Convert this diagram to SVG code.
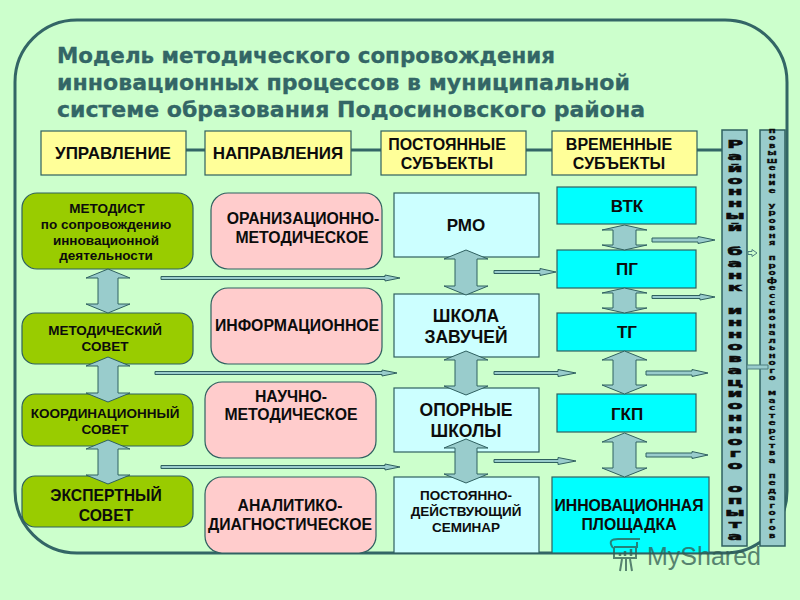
<svg xmlns="http://www.w3.org/2000/svg" width="800" height="600" viewBox="0 0 800 600">
<style>
text{font-family:"Liberation Sans",Arial,sans-serif;font-weight:700;fill:#0c0c0c;text-anchor:middle}
.t{font-family:"DejaVu Sans",sans-serif;fill:#336666;stroke:#336666;stroke-width:.3;text-anchor:start;font-size:21px}
.b{stroke:#2f6060;stroke-width:1.2}
.hd{fill:#ffff99}.gr{fill:#99cc00}.pk{fill:#ffcccc}.lb{fill:#ccffff}.cy{fill:#00ffff}
.band{fill:#99cccc;stroke:#2f6060;stroke-width:1.5}
.a{fill:#99cccc;stroke:#2f6060;stroke-width:1}
.v{font-family:"DejaVu Sans",sans-serif;font-weight:700;stroke:#0c0c0c;stroke-width:.5}
</style>
<rect width="800" height="600" fill="#ccffcc"/>
<rect x="15" y="20" width="772" height="533" rx="62" fill="none" stroke="#336666" stroke-width="3"/>
<g id="title">
<text class="t" x="57" y="63" textLength="498" lengthAdjust="spacingAndGlyphs">Модель методического сопровождения</text>
<text class="t" x="57" y="90" textLength="573" lengthAdjust="spacingAndGlyphs">инновационных процессов в муниципальной</text>
<text class="t" x="57" y="117" textLength="588" lengthAdjust="spacingAndGlyphs">системе образования Подосиновского района</text>
</g>
<g id="header-line"><path d="M186 150H722" stroke="#336666" stroke-width="3" fill="none"/></g>
<g id="upravlenie"><rect class="b hd" x="41" y="131" width="145" height="44"/><text x="113" y="159" font-size="17">УПРАВЛЕНИЕ</text></g>
<g id="napravleniya"><rect class="b hd" x="205" y="131" width="146" height="44"/><text x="278" y="159" font-size="17">НАПРАВЛЕНИЯ</text></g>
<g id="postoyannye"><rect class="b hd" x="381" y="131" width="145" height="44"/><text x="447" y="150" font-size="16">ПОСТОЯННЫЕ</text><text x="447" y="169" font-size="16">СУБЪЕКТЫ</text></g>
<g id="vremennye"><rect class="b hd" x="552" y="131" width="145" height="44"/><text x="619" y="150" font-size="16">ВРЕМЕННЫЕ</text><text x="619" y="169" font-size="16">СУБЪЕКТЫ</text></g>
<g id="metodist"><rect class="b gr" x="22" y="193" width="171" height="76" rx="15"/>
<text x="107" y="213" font-size="13.500">МЕТОДИСТ</text><text x="106" y="229" font-size="13.500">по сопровождению</text><text x="106" y="245" font-size="13.500">инновационной</text><text x="106" y="260" font-size="13.500">деятельности</text></g>
<g id="metsovet"><rect class="b gr" x="22" y="313" width="171" height="51" rx="13"/><text x="105" y="335" font-size="13.500">МЕТОДИЧЕСКИЙ</text><text x="105" y="351" font-size="13.500">СОВЕТ</text></g>
<g id="koord"><rect class="b gr" x="22" y="394" width="171" height="52" rx="13"/><text x="105" y="418" font-size="13.500">КООРДИНАЦИОННЫЙ</text><text x="105" y="434" font-size="13.500">СОВЕТ</text></g>
<g id="ekspert"><rect class="b gr" x="22" y="476" width="171" height="51" rx="13"/><text x="106" y="501" font-size="15.700">ЭКСПЕРТНЫЙ</text><text x="106" y="521" font-size="15.700">СОВЕТ</text></g>
<g id="org"><rect class="b pk" x="211" y="193" width="171" height="76" rx="17"/><text x="303" y="224" font-size="15.800">ОРАНИЗАЦИОННО-</text><text x="302" y="243" font-size="15.800">МЕТОДИЧЕСКОЕ</text></g>
<g id="inform"><rect class="b pk" x="211" y="288" width="171" height="76" rx="17"/><text x="297" y="331" font-size="15.800">ИНФОРМАЦИОННОЕ</text></g>
<g id="nauch"><rect class="b pk" x="205" y="382" width="171" height="76" rx="17"/><text x="291" y="402" font-size="15.800">НАУЧНО-</text><text x="291" y="420" font-size="15.800">МЕТОДИЧЕСКОЕ</text></g>
<g id="analit"><rect class="b pk" x="205" y="477" width="171" height="76" rx="17"/><text x="290" y="511" font-size="15.800">АНАЛИТИКО-</text><text x="290" y="530" font-size="15.800">ДИАГНОСТИЧЕСКОЕ</text></g>
<g id="rmo"><rect class="b lb" x="394" y="193" width="145" height="64"/><text x="466" y="231" font-size="17">РМО</text></g>
<g id="shkola"><rect class="b lb" x="394" y="294" width="145" height="63"/><text x="466" y="322" font-size="17.500">ШКОЛА</text><text x="466" y="343" font-size="17.500">ЗАВУЧЕЙ</text></g>
<g id="opornye"><rect class="b lb" x="394" y="388" width="145" height="64"/><text x="466" y="416" font-size="17.500">ОПОРНЫЕ</text><text x="466" y="437" font-size="17.500">ШКОЛЫ</text></g>
<g id="seminar"><rect class="b lb" x="394" y="477" width="145" height="76"/><text x="466" y="500" font-size="13.500">ПОСТОЯННО-</text><text x="466" y="516" font-size="13.500">ДЕЙСТВУЮЩИЙ</text><text x="466" y="532" font-size="13.500">СЕМИНАР</text></g>
<g id="vtk"><rect class="b cy" x="557" y="187" width="139" height="37"/><text x="627" y="212" font-size="17">ВТК</text></g>
<g id="pg"><rect class="b cy" x="557" y="250" width="139" height="38"/><text x="627" y="275" font-size="17">ПГ</text></g>
<g id="tg"><rect class="b cy" x="557" y="313" width="139" height="38"/><text x="627" y="338" font-size="17">ТГ</text></g>
<g id="gkp"><rect class="b cy" x="557" y="394" width="139" height="38"/><text x="627" y="420" font-size="17">ГКП</text></g>
<g id="plosh"><rect class="b cy" x="552" y="477" width="157" height="76"/><text x="629" y="511" font-size="15.800">ИННОВАЦИОННАЯ</text><text x="629" y="530" font-size="15.800">ПЛОЩАДКА</text></g>
<g id="connectors">
<path class="a" d="M161 276.500H385V275L400 278L385 281V279.500H161Z"/>
<path class="a" d="M155 371.500H382V370L397 373L382 376V374.500H155Z"/>
<path class="a" d="M161 465.500H385V464L400 467L385 470V468.500H161Z"/>
<path class="a" d="M494 270.500H540V268.500L556 272L540 275.500V273.500H494Z"/>
<path class="a" d="M494 371.500H558V369.500L576 373L558 376.500V374.500H494Z"/>
<path class="a" d="M494 459.500H558V457.500L576 461L558 464.500V462.500H494Z"/>
<path class="a" d="M652 238H698V236.500L715 240L698 243.500V242H652Z"/>
<path class="a" d="M652 295.500H700V294L715 297L700 300V298.500H652Z"/>
<path class="a" d="M646 371H692V369.500L708 373L692 376.500V375H646Z"/>
<path class="a" d="M646 453H692V451.500L708 455L692 458.500V457H646Z"/>
<path class="a" d="M108 269L130 278H118V304H130L108 313L86 304H98V278H86Z"/>
<path class="a" d="M108 357L130 366H118V393H130L108 402L86 393H98V366H86Z"/>
<path class="a" d="M108 440L130 449H118V475H130L108 484L86 475H98V449H86Z"/>
<path class="a" d="M466 250L488 259H477V286H488L466 295L444 286H455V259H444Z"/>
<path class="a" d="M466 351L488 360H477V386H488L466 395L444 386H455V360H444Z"/>
<path class="a" d="M466 439L488 448H477V474H488L466 483L444 474H455V448H444Z"/>
<path class="a" d="M624.500 225L647 230H636V245H647L624.500 250L602 245H613V230H602Z"/>
<path class="a" d="M624.500 288L647 293H636V308H647L624.500 313L602 308H613V293H602Z"/>
<path class="a" d="M624.500 351L647 360H636V385H647L624.500 394L602 385H613V360H602Z"/>
<path class="a" d="M624.500 433L647 442H636V468H647L624.500 477L602 468H613V442H602Z"/>
</g>
<g id="bank"><rect class="band" x="722" y="130" width="25" height="416"/>
<text class="v" transform="translate(735 -1.500) scale(2 1)" font-size="11" x="0 0 0 0 0 0 0 0 0 0 0 0 0 0 0 0 0 0 0 0 0 0 0 0 0 0 0 0 0 0 0 0 0 0" y="149.500 161.400 173.300 185.100 197 208.900 220.800 232.700 244.500 256.400 268.300 280.200 292.100 303.900 315.800 327.700 339.600 351.500 363.300 375.200 387.100 399 410.900 422.700 434.600 446.500 458.400 470.300 482.100 494 505.900 517.800 529.700 541.500">Районный банк инновационного опыта</text></g>
<g id="povyshenie"><rect class="band" x="760" y="130" width="25" height="416"/>
<text class="v" style="stroke-width:.3" transform="translate(772 -.5) scale(1.5 1)" font-size="7" x="0 0 0 0 0 0 0 0 0 0 0 0 0 0 0 0 0 0 0 0 0 0 0 0 0 0 0 0 0 0 0 0 0 0 0 0 0 0 0 0 0 0 0 0 0 0 0 0 0 0 0 0 0 0 0" y="133.500 141 148.500 156 163.500 171 178.500 186 193.500 201 208.500 216 223.500 231 238.500 246 253.500 261 268.500 276 283.500 291 298.500 306 313.500 321 328.500 336 343.500 351 358.500 366 373.500 381 388.500 396 403.500 411 418.500 426 433.500 441 448.500 456 463.500 471 478.500 486 493.500 501 508.500 516 523.500 531 538.500">повышение уровня профессионального мастерства педагогов</text></g>
<g id="band-links">
<path d="M748 251.500H752V249.500L757 253L752 256.500V254.500H748Z" fill="#ccffcc" stroke="#4f8080"/>
<path d="M747 365H768V369H747Z" fill="#99cccc" stroke="#4f8080"/>
</g>
<g id="watermark" opacity=".75" fill="none" stroke="#2f5a50" stroke-width="2">
<path d="M614 547H637V542M614 547V558H636V547M620 571L622 559M632 571L630 559M626 571V559"/>
<path d="M613 548C608 541 612 539 618 539H640" />
<path d="M620 556V553M625 556V551M631 556V549" stroke-width="2.500"/>
<text x="647" y="565" font-size="25" style="text-anchor:start;font-weight:400;fill:#2f5a50;stroke:none">MyShared</text>
</g>
</svg>
